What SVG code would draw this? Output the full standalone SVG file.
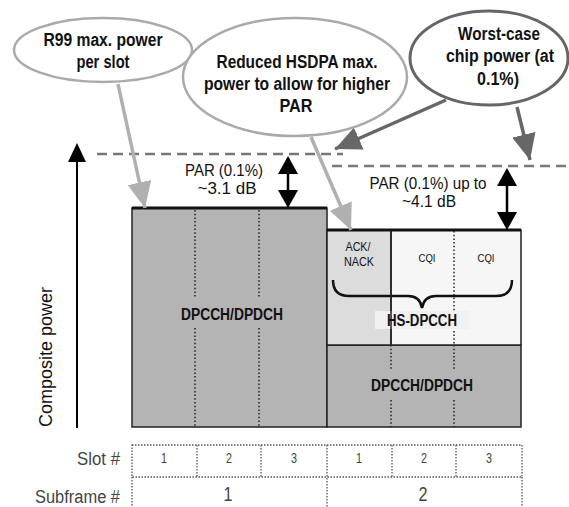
<svg xmlns="http://www.w3.org/2000/svg" width="569" height="507" viewBox="0 0 569 507">
<style>
.b{font-family:"Liberation Sans",Arial,sans-serif;font-weight:bold;fill:#111;text-anchor:middle}
.r{font-family:"Liberation Sans",Arial,sans-serif;fill:#111;text-anchor:middle}
.g{font-family:"Liberation Sans",Arial,sans-serif;fill:#444;text-anchor:middle}
.e{text-anchor:end}
.dot{stroke:#222;stroke-width:1.5;stroke-dasharray:1.5 2.2;fill:none}
.tdot{stroke:#555;stroke-width:1.3;stroke-dasharray:1.5 1.5;fill:none}
.dash{stroke:#777;stroke-width:2.5;stroke-dasharray:10 6;fill:none}
</style>
<defs>
<marker id="ga" markerWidth="26" markerHeight="24" refX="26" refY="12" orient="auto" markerUnits="userSpaceOnUse"><path d="M0,0 L26,12 L0,24 Z" fill="#b0b0b0"/></marker>
<marker id="da" markerWidth="26" markerHeight="24" refX="26" refY="12" orient="auto" markerUnits="userSpaceOnUse"><path d="M0,0 L26,12 L0,24 Z" fill="#676767"/></marker>
</defs>

<g id="axis">
<line x1="77" y1="428" x2="77" y2="150" stroke="#000" stroke-width="2"/>
<path d="M68,162 L77,143 L86,162 Z" fill="#000"/>
<text class="r" font-size="19" transform="translate(52,357) rotate(-90)" textLength="140" lengthAdjust="spacingAndGlyphs">Composite power</text>
</g>

<g id="block-left">
<rect x="132" y="208" width="195" height="219" fill="#b4b4b4" stroke="#222" stroke-width="1.5"/>
<line x1="132" y1="208" x2="327" y2="208" stroke="#111" stroke-width="3"/>
<line class="dot" x1="195" y1="210" x2="195" y2="298"/>
<line class="dot" x1="195" y1="328" x2="195" y2="427"/>
<line class="dot" x1="259" y1="210" x2="259" y2="298"/>
<line class="dot" x1="259" y1="328" x2="259" y2="427"/>
<text class="b" x="232" y="320" font-size="16" textLength="102" lengthAdjust="spacingAndGlyphs">DPCCH/DPDCH</text>
</g>

<g id="block-right-bottom">
<rect x="327" y="345" width="194" height="82" fill="#b4b4b4" stroke="#222" stroke-width="1.5"/>
<line class="dot" x1="391" y1="345" x2="391" y2="371"/>
<line class="dot" x1="391" y1="400" x2="391" y2="427"/>
<line class="dot" x1="454" y1="345" x2="454" y2="371"/>
<line class="dot" x1="454" y1="400" x2="454" y2="427"/>
<text class="b" x="422" y="391" font-size="16" textLength="102" lengthAdjust="spacingAndGlyphs">DPCCH/DPDCH</text>
</g>

<g id="hs-dpcch">
<rect x="327" y="230" width="194" height="115" fill="#f6f6f6" stroke="#222" stroke-width="1.5"/>
<rect x="327" y="230" width="64" height="115" fill="#dcdcdc" stroke="#222" stroke-width="1.5"/>
<line x1="327" y1="230" x2="521" y2="230" stroke="#111" stroke-width="3"/>
<line class="dot" x1="454" y1="231" x2="454" y2="345"/>
<text class="r" x="358" y="251" font-size="12.5" textLength="25" lengthAdjust="spacingAndGlyphs">ACK/</text>
<text class="r" x="359" y="266" font-size="12.5" textLength="30" lengthAdjust="spacingAndGlyphs">NACK</text>
<text class="r" x="427" y="262" font-size="11.5" textLength="17" lengthAdjust="spacingAndGlyphs">CQI</text>
<text class="r" x="486" y="262" font-size="11.5" textLength="17" lengthAdjust="spacingAndGlyphs">CQI</text>
<path d="M333,280 Q333,296 349,296 L408,296 Q420,296 422,308 Q424,296 436,296 L496,296 Q512,296 512,280" fill="none" stroke="#111" stroke-width="2.5"/>
<rect x="375" y="311" width="94" height="18" fill="#f0f0f0"/>
<line x1="391" y1="230" x2="391" y2="345" stroke="#222" stroke-width="1.5"/>
<text class="b" x="422" y="326" font-size="16" textLength="70" lengthAdjust="spacingAndGlyphs">HS-DPCCH</text>
</g>

<g id="par-left">
<line class="dash" x1="97" y1="154" x2="343" y2="154"/>
<line x1="288" y1="158" x2="288" y2="204" stroke="#000" stroke-width="2.5"/>
<path d="M278,174 L288,156 L298,174 Z" fill="#000"/>
<path d="M278,190 L288,208 L298,190 Z" fill="#000"/>
<text class="r" x="224" y="176" font-size="17" textLength="78" lengthAdjust="spacingAndGlyphs">PAR (0.1%)</text>
<text class="r" x="227" y="194" font-size="17" textLength="59" lengthAdjust="spacingAndGlyphs">~3.1 dB</text>
</g>

<g id="par-right">
<line class="dash" x1="332" y1="166" x2="569" y2="166"/>
<line x1="507" y1="170" x2="507" y2="226" stroke="#000" stroke-width="2.5"/>
<path d="M497,186 L507,168 L517,186 Z" fill="#000"/>
<path d="M497,212 L507,230 L517,212 Z" fill="#000"/>
<text class="r" x="428" y="189" font-size="17" textLength="117" lengthAdjust="spacingAndGlyphs">PAR (0.1%) up to</text>
<text class="r" x="429" y="207" font-size="17" textLength="54" lengthAdjust="spacingAndGlyphs">~4.1 dB</text>
</g>

<g id="connectors">
<line x1="118" y1="84" x2="145" y2="208" stroke="#b0b0b0" stroke-width="3.5" marker-end="url(#ga)"/>
<line x1="311" y1="137" x2="351" y2="230" stroke="#b0b0b0" stroke-width="3.5" marker-end="url(#ga)"/>
<line x1="446" y1="100" x2="335" y2="149" stroke="#676767" stroke-width="3.5" marker-end="url(#da)"/>
<line x1="517" y1="107" x2="530" y2="160" stroke="#676767" stroke-width="3.5" marker-end="url(#da)"/>
</g>

<g id="ellipse-r99">
<ellipse cx="103" cy="50" rx="89" ry="32" fill="#fff" stroke="#aaa" stroke-width="2.5"/>
<text class="b" x="103" y="46" font-size="18" textLength="119" lengthAdjust="spacingAndGlyphs">R99 max. power</text>
<text class="b" x="103" y="68" font-size="18" textLength="53" lengthAdjust="spacingAndGlyphs">per slot</text>
</g>

<g id="ellipse-hsdpa">
<ellipse cx="295" cy="77" rx="112" ry="59" fill="#fff" stroke="#aaa" stroke-width="2.5"/>
<text class="b" x="297" y="68" font-size="18" textLength="161" lengthAdjust="spacingAndGlyphs">Reduced HSDPA max.</text>
<text class="b" x="297" y="90" font-size="18" textLength="186" lengthAdjust="spacingAndGlyphs">power to allow for higher</text>
<text class="b" x="296" y="112" font-size="18" textLength="33" lengthAdjust="spacingAndGlyphs">PAR</text>
</g>

<g id="ellipse-worst">
<ellipse cx="489" cy="58" rx="79" ry="47" fill="#fff" stroke="#666" stroke-width="3"/>
<text class="b" x="499" y="40" font-size="18" textLength="82" lengthAdjust="spacingAndGlyphs">Worst-case</text>
<text class="b" x="500" y="62" font-size="18" textLength="108" lengthAdjust="spacingAndGlyphs">chip power (at</text>
<text class="b" x="498" y="85" font-size="18" textLength="42" lengthAdjust="spacingAndGlyphs">0.1%)</text>
</g>

<g id="table">
<rect class="tdot" x="132" y="445" width="390" height="32"/>
<line class="tdot" x1="197" y1="445" x2="197" y2="477"/>
<line class="tdot" x1="261" y1="445" x2="261" y2="477"/>
<line class="tdot" x1="327" y1="445" x2="327" y2="507"/>
<line class="tdot" x1="392" y1="445" x2="392" y2="477"/>
<line class="tdot" x1="456" y1="445" x2="456" y2="477"/>
<line class="tdot" x1="132" y1="477" x2="132" y2="507"/>
<line class="tdot" x1="522" y1="477" x2="522" y2="507"/>
<text class="g" x="164" y="463" font-size="14" textLength="6" lengthAdjust="spacingAndGlyphs">1</text>
<text class="g" x="229" y="463" font-size="14" textLength="6" lengthAdjust="spacingAndGlyphs">2</text>
<text class="g" x="294" y="463" font-size="14" textLength="6" lengthAdjust="spacingAndGlyphs">3</text>
<text class="g" x="359" y="463" font-size="14" textLength="6" lengthAdjust="spacingAndGlyphs">1</text>
<text class="g" x="424" y="463" font-size="14" textLength="6" lengthAdjust="spacingAndGlyphs">2</text>
<text class="g" x="489" y="463" font-size="14" textLength="6" lengthAdjust="spacingAndGlyphs">3</text>
<text class="g" x="228" y="501" font-size="20" textLength="9" lengthAdjust="spacingAndGlyphs">1</text>
<text class="g" x="423" y="501" font-size="20" textLength="9" lengthAdjust="spacingAndGlyphs">2</text>
<text class="g e" x="120" y="465" font-size="18" textLength="43" lengthAdjust="spacingAndGlyphs">Slot #</text>
<text class="g e" x="120" y="503" font-size="18" textLength="85" lengthAdjust="spacingAndGlyphs">Subframe #</text>
</g>
</svg>
